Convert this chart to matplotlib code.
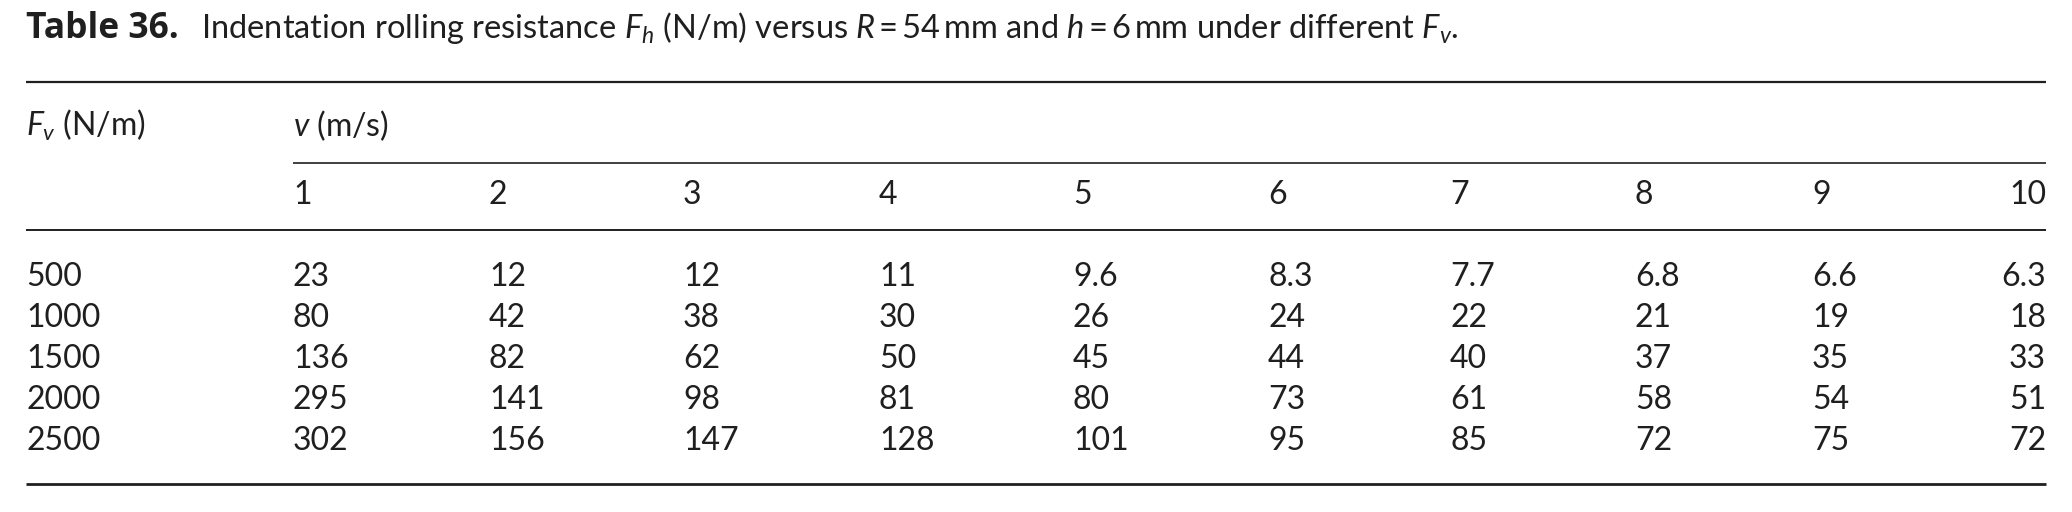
import matplotlib
matplotlib.use("Agg")
import matplotlib.pyplot as plt

# ---- data ----
fv_values = ["500", "1000", "1500", "2000", "2500"]
v_values = ["1", "2", "3", "4", "5", "6", "7", "8", "9", "10"]
fh_500 = ["23", "12", "12", "11", "9.6", "8.3", "7.7", "6.8", "6.6", "6.3"]
fh_1000 = ["80", "42", "38", "30", "26", "24", "22", "21", "19", "18"]
fh_1500 = ["136", "82", "62", "50", "45", "44", "40", "37", "35", "33"]
fh_2000 = ["295", "141", "98", "81", "80", "73", "61", "58", "54", "51"]
fh_2500 = ["302", "156", "147", "128", "101", "95", "85", "72", "75", "72"]
rows = [fh_500, fh_1000, fh_1500, fh_2000, fh_2500]

title_bold = "Table 36."
title_rest = ("Indentation rolling resistance $F_h$ (N/m) versus $R$\u2009=\u200954\u2009mm "
              "and $h$\u2009=\u20096\u2009mm under different $F_v$.")
col_header_fv = "$F_v$ (N/m)"
col_header_v = "$v$ (m/s)"

# ---- style ----
FONT = "Lato"
plt.rcParams["font.family"] = [FONT, "DejaVu Sans"]
plt.rcParams["mathtext.fontset"] = "custom"
plt.rcParams["mathtext.rm"] = FONT
plt.rcParams["mathtext.it"] = FONT + ":italic"
plt.rcParams["mathtext.bf"] = FONT + ":bold"
INK = "#1f1f1f"
FS = 23
FS_TITLE = 23.5

W, H = 2072, 512
fig = plt.figure(figsize=(W / 100, H / 100), dpi=100)
ax = fig.add_axes([0, 0, 1, 1])
ax.set_xlim(0, W)
ax.set_ylim(H, 0)
ax.axis("off")

left, right = 26, 2046
col_x = [293, 489, 683, 879, 1073, 1268, 1450, 1635, 1812]

# title
t1 = ax.text(left, 38, title_bold, fontsize=25.5, fontweight="bold", color=INK,
             family=["Open Sans", "DejaVu Sans"], va="baseline", ha="left")
fig.canvas.draw()
bb = t1.get_window_extent(renderer=fig.canvas.get_renderer())
x_rest = bb.x1 + 22
ax.text(x_rest, 38, title_rest, fontsize=FS_TITLE, color=INK, va="baseline", ha="left")

# rules
ax.plot([left, right], [82, 82], color=INK, lw=1.6, solid_capstyle="butt")
ax.plot([col_x[0], right], [162.5, 162.5], color=INK, lw=1.2, solid_capstyle="butt")
ax.plot([left, right], [230, 230], color=INK, lw=1.4, solid_capstyle="butt")
ax.plot([left, right], [483.5, 483.5], color=INK, lw=2.0, solid_capstyle="butt")

# column headers
ax.text(left, 136, col_header_fv, fontsize=FS, color=INK, va="baseline", ha="left")
ax.text(col_x[0], 136, col_header_v, fontsize=FS, color=INK, va="baseline", ha="left")

def cell(x_idx, y, s):
    if x_idx < len(col_x):
        ax.text(col_x[x_idx], y, s, fontsize=FS, color=INK, va="baseline", ha="left")
    else:
        ax.text(right, y, s, fontsize=FS, color=INK, va="baseline", ha="right")

for j, v in enumerate(v_values):
    cell(j, 204, v)

row_y0, row_dy = 286, 41
for i, (fv, vals) in enumerate(zip(fv_values, rows)):
    y = row_y0 + i * row_dy
    ax.text(left, y, fv, fontsize=FS, color=INK, va="baseline", ha="left")
    for j, s in enumerate(vals):
        cell(j, y, s)

fig.savefig("out.png", dpi=100, facecolor="white")
